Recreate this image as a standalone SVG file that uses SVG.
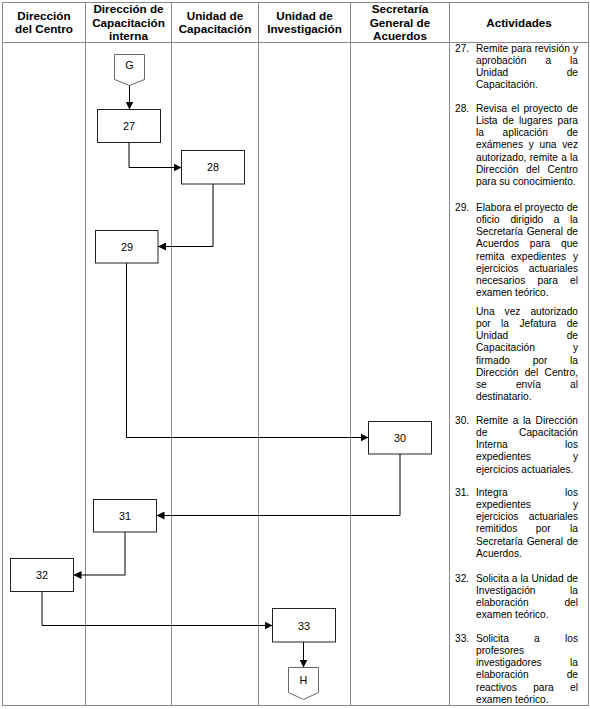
<svg xmlns="http://www.w3.org/2000/svg" width="590" height="709" viewBox="0 0 590 709">
<style>
.grid{fill:none;stroke:#8a8a8a;stroke-width:1}
.hd{font-family:"Liberation Sans",Arial,sans-serif;font-size:11.7px;font-weight:bold;fill:#000;text-anchor:middle}
.box{fill:#fff;stroke:#222;stroke-width:1}
.off{fill:#fff;stroke:#666;stroke-width:1}
.lbl{font-family:"Liberation Sans",Arial,sans-serif;font-size:10.8px;fill:#000;text-anchor:middle}
.con{fill:none;stroke:#000;stroke-width:1;marker-end:url(#ah)}
.t{font-family:"Liberation Sans",Arial,sans-serif;font-size:10.2px;fill:#000}
.e{text-anchor:end}
</style>
<defs>
<marker id="ah" markerUnits="userSpaceOnUse" markerWidth="8" markerHeight="8" refX="8" refY="4" orient="auto">
<path d="M0,0 L8,4 L0,8 z" fill="#000"/>
</marker>
</defs>
<rect width="590" height="709" fill="#fff"/>
<g id="table">
<rect class="grid" x="2.5" y="2.5" width="586" height="703"/>
<line class="grid" x1="2.5" y1="42.5" x2="588.5" y2="42.5"/>
<line class="grid" x1="85.5" y1="2.5" x2="85.5" y2="705.5"/>
<line class="grid" x1="171.5" y1="2.5" x2="171.5" y2="705.5"/>
<line class="grid" x1="258.5" y1="2.5" x2="258.5" y2="705.5"/>
<line class="grid" x1="350.5" y1="2.5" x2="350.5" y2="705.5"/>
<line class="grid" x1="449.5" y1="2.5" x2="449.5" y2="705.5"/>
</g>
<g id="header">
<text class="hd" x="44" y="20">Dirección</text>
<text class="hd" x="44" y="33.3">del Centro</text>
<text class="hd" x="128.5" y="13.3">Dirección de</text>
<text class="hd" x="128.5" y="26.6">Capacitación</text>
<text class="hd" x="128.5" y="39.9">interna</text>
<text class="hd" x="215" y="20">Unidad de</text>
<text class="hd" x="215" y="33.3">Capacitación</text>
<text class="hd" x="304.5" y="20">Unidad de</text>
<text class="hd" x="304.5" y="33.3">Investigación</text>
<text class="hd" x="400" y="13.3">Secretaría</text>
<text class="hd" x="400" y="26.6">General de</text>
<text class="hd" x="400" y="39.9">Acuerdos</text>
<text class="hd" x="519" y="26.5">Actividades</text>
</g>
<g id="connectors">
<path class="con" d="M129.5,85 V109.5"/>
<path class="con" d="M129,142.5 V167.5 H181.5"/>
<path class="con" d="M213,184 V246.5 H158"/>
<path class="con" d="M126.5,263 V437.5 H368.5"/>
<path class="con" d="M400,454 V515.5 H156.5"/>
<path class="con" d="M125,532 V575 H73.5"/>
<path class="con" d="M42,591.5 V625.5 H272.5"/>
<path class="con" d="M303.5,642 V667.5"/>
</g>
<g id="G">
<path class="off" d="M114.5,54.5 H144.5 V79.5 L129.5,85.5 L114.5,79.5 Z"/>
<text class="lbl" x="129.5" y="69">G</text>
</g>
<g id="n27"><rect class="box" x="97.5" y="109.5" width="63" height="33"/><text class="lbl" x="129" y="129.5">27</text></g>
<g id="n28"><rect class="box" x="181.5" y="150.5" width="63" height="33.5"/><text class="lbl" x="213" y="171">28</text></g>
<g id="n29"><rect class="box" x="95.5" y="230.5" width="62.5" height="32.5"/><text class="lbl" x="127" y="250.5">29</text></g>
<g id="n30"><rect class="box" x="368.5" y="421.5" width="63" height="32.5"/><text class="lbl" x="400" y="441.5">30</text></g>
<g id="n31"><rect class="box" x="93.5" y="499.5" width="63" height="32.5"/><text class="lbl" x="125" y="519.5">31</text></g>
<g id="n32"><rect class="box" x="10.5" y="558.5" width="63" height="33"/><text class="lbl" x="42" y="578.5">32</text></g>
<g id="n33"><rect class="box" x="272.5" y="608.5" width="63" height="33.5"/><text class="lbl" x="304" y="629.5">33</text></g>
<g id="H">
<path class="off" d="M288.5,667.5 H318.5 V692.5 L303.5,699.5 L288.5,692.5 Z"/>
<text class="lbl" x="303.5" y="684">H</text>
</g>
<g id="activities">
<text class="t" x="455" y="51.7">27.</text>
<text class="t" x="476" y="51.7">Remite</text><text class="t" x="511.3" y="51.7">para</text><text class="t" x="534.7" y="51.7">revisión</text><text class="t e" x="578" y="51.7">y</text>
<text class="t" x="476" y="63.9">aprobación</text><text class="t" x="545.4" y="63.9">a</text><text class="t e" x="578" y="63.9">la</text>
<text class="t" x="476" y="76.1">Unidad</text><text class="t e" x="578" y="76.1">de</text>
<text class="t" x="476" y="88.3">Capacitación.</text>

<text class="t" x="455" y="111.7">28.</text>
<text class="t" x="476" y="111.7">Revisa</text><text class="t" x="511.3" y="111.7">el</text><text class="t" x="523.4" y="111.7">proyecto</text><text class="t e" x="578" y="111.7">de</text>
<text class="t" x="476" y="123.9">Lista</text><text class="t" x="502.6" y="123.9">de</text><text class="t" x="519.1" y="123.9">lugares</text><text class="t e" x="578" y="123.9">para</text>
<text class="t" x="476" y="136.1">la</text><text class="t" x="502.6" y="136.1">aplicación</text><text class="t e" x="578" y="136.1">de</text>
<text class="t" x="476" y="148.3">exámenes</text><text class="t" x="528.7" y="148.3">y</text><text class="t" x="539.5" y="148.3">una</text><text class="t e" x="578" y="148.3">vez</text>
<text class="t" x="476" y="160.5">autorizado,</text><text class="t" x="529.7" y="160.5">remite</text><text class="t" x="561.2" y="160.5">a</text><text class="t e" x="578" y="160.5">la</text>
<text class="t" x="476" y="172.7">Dirección</text><text class="t" x="526.1" y="172.7">del</text><text class="t e" x="578" y="172.7">Centro</text>
<text class="t" x="476" y="184.9">para su conocimiento.</text>

<text class="t" x="455" y="210.7">29.</text>
<text class="t" x="476" y="210.7">Elabora</text><text class="t" x="514" y="210.7">el</text><text class="t" x="524.7" y="210.7">proyecto</text><text class="t e" x="578" y="210.7">de</text>
<text class="t" x="476" y="222.9">oficio</text><text class="t" x="510.4" y="222.9">dirigido</text><text class="t" x="553.8" y="222.9">a</text><text class="t e" x="578" y="222.9">la</text>
<text class="t" x="476" y="235.1">Secretaría</text><text class="t" x="526.7" y="235.1">General</text><text class="t e" x="578" y="235.1">de</text>
<text class="t" x="476" y="247.3">Acuerdos</text><text class="t" x="529.8" y="247.3">para</text><text class="t e" x="578" y="247.3">que</text>
<text class="t" x="476" y="259.5">remita</text><text class="t" x="511.1" y="259.5">expedientes</text><text class="t e" x="578" y="259.5">y</text>
<text class="t" x="476" y="271.7">ejercicios</text><text class="t e" x="578" y="271.7">actuariales</text>
<text class="t" x="476" y="283.9">necesarios</text><text class="t" x="537.5" y="283.9">para</text><text class="t e" x="578" y="283.9">el</text>
<text class="t" x="476" y="296.1">examen teórico.</text>

<text class="t" x="476" y="314.7">Una</text><text class="t" x="504.6" y="314.7">vez</text><text class="t e" x="578" y="314.7">autorizado</text>
<text class="t" x="476" y="326.9">por</text><text class="t" x="501.1" y="326.9">la</text><text class="t" x="519.4" y="326.9">Jefatura</text><text class="t e" x="578" y="326.9">de</text>
<text class="t" x="476" y="339.1">Unidad</text><text class="t e" x="578" y="339.1">de</text>
<text class="t" x="476" y="351.3">Capacitación</text><text class="t e" x="578" y="351.3">y</text>
<text class="t" x="476" y="363.5">firmado</text><text class="t" x="532.7" y="363.5">por</text><text class="t e" x="578" y="363.5">la</text>
<text class="t" x="476" y="375.7">Dirección</text><text class="t" x="524.7" y="375.7">del</text><text class="t e" x="578" y="375.7">Centro,</text>
<text class="t" x="476" y="387.9">se</text><text class="t" x="515.9" y="387.9">envía</text><text class="t e" x="578" y="387.9">al</text>
<text class="t" x="476" y="400.1">destinatario.</text>

<text class="t" x="455" y="423.7">30.</text>
<text class="t" x="476" y="423.7">Remite</text><text class="t" x="512.8" y="423.7">a</text><text class="t" x="523" y="423.7">la</text><text class="t e" x="578" y="423.7">Dirección</text>
<text class="t" x="476" y="435.9">de</text><text class="t e" x="578" y="435.9">Capacitación</text>
<text class="t" x="476" y="448.1">Interna</text><text class="t e" x="578" y="448.1">los</text>
<text class="t" x="476" y="460.3">expedientes</text><text class="t e" x="578" y="460.3">y</text>
<text class="t" x="476" y="472.5">ejercicios actuariales.</text>

<text class="t" x="455" y="495.7">31.</text>
<text class="t" x="476" y="495.7">Integra</text><text class="t e" x="578" y="495.7">los</text>
<text class="t" x="476" y="507.9">expedientes</text><text class="t e" x="578" y="507.9">y</text>
<text class="t" x="476" y="520.1">ejercicios</text><text class="t e" x="578" y="520.1">actuariales</text>
<text class="t" x="476" y="532.3">remitidos</text><text class="t" x="535.8" y="532.3">por</text><text class="t e" x="578" y="532.3">la</text>
<text class="t" x="476" y="544.5">Secretaría</text><text class="t" x="526.7" y="544.5">General</text><text class="t e" x="578" y="544.5">de</text>
<text class="t" x="476" y="556.7">Acuerdos.</text>

<text class="t" x="455" y="581.7">32.</text>
<text class="t" x="476" y="581.7">Solicita</text><text class="t" x="511.8" y="581.7">a</text><text class="t" x="520.5" y="581.7">la</text><text class="t" x="531.4" y="581.7">Unidad</text><text class="t e" x="578" y="581.7">de</text>
<text class="t" x="476" y="593.9">Investigación</text><text class="t e" x="578" y="593.9">la</text>
<text class="t" x="476" y="606.1">elaboración</text><text class="t e" x="578" y="606.1">del</text>
<text class="t" x="476" y="618.3">examen teórico.</text>

<text class="t" x="455" y="641.7">33.</text>
<text class="t" x="476" y="641.7">Solicita</text><text class="t" x="534.1" y="641.7">a</text><text class="t e" x="578" y="641.7">los</text>
<text class="t" x="476" y="653.9">profesores</text>
<text class="t" x="476" y="666.1">investigadores</text><text class="t e" x="578" y="666.1">la</text>
<text class="t" x="476" y="678.3">elaboración</text><text class="t e" x="578" y="678.3">de</text>
<text class="t" x="476" y="690.5">reactivos</text><text class="t" x="533.2" y="690.5">para</text><text class="t e" x="578" y="690.5">el</text>
<text class="t" x="476" y="702.7">examen teórico.</text>
</g>
</svg>
